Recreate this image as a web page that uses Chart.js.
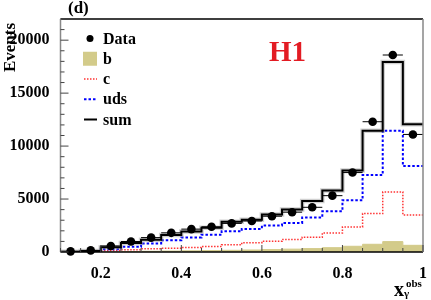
<!DOCTYPE html>
<html>
<head>
<meta charset="utf-8">
<script src="https://cdn.jsdelivr.net/npm/chart.js@4.4.0/dist/chart.umd.min.js"></script>
<style>
  html, body { margin: 0; padding: 0; background: #fff; }
  #wrap { width: 431px; height: 300px; position: relative; }
</style>
</head>
<body>
<div id="wrap"><canvas id="chart"></canvas></div>
<script>
// lower bin edges, the last bin ends at xEnd
const binLow = [0.10, 0.15, 0.20, 0.25, 0.30, 0.35, 0.40, 0.45, 0.50,
                0.55, 0.60, 0.65, 0.70, 0.75, 0.80, 0.85, 0.90, 0.95];
const xEnd = 1.0;
const binWidth = 0.05;

const dataVals = [60, 150, 570, 990, 1360, 1810, 2160, 2380, 2700,
                  2930, 3380, 3760, 4220, 5320, 7500, 12300, 18600, 11100];
const sumVals  = [30, 100, 450, 850, 1150, 1600, 1930, 2300, 2850,
                  3050, 3550, 4020, 4810, 5800, 7700, 11460, 17930, 12060];
const udsVals  = [10, 40, 250, 500, 800, 1120, 1380, 1620, 1950,
                  2180, 2500, 2750, 3260, 3850, 4890, 7260, 11460, 8110];
const cVals    = [5, 30, 150, 220, 300, 350, 420, 520, 680,
                  880, 1010, 1170, 1390, 1800, 2370, 3630, 5660, 3500];
const bVals    = [5, 10, 30, 50, 70, 90, 110, 130, 160,
                  190, 230, 270, 320, 410, 540, 730, 980, 630];

const xTickLabels = [0.2, 0.4, 0.6, 0.8, 1.0];
const yTickLabels = [0, 5000, 10000, 15000, 20000];
const legendNames = ['Data', 'b', 'c', 'uds', 'sum'];

const serif = "'Liberation Serif', 'DejaVu Serif', serif";

// histogram outline: one point per lower edge plus the closing edge
function steps(vals) {
    const pts = binLow.map((x, i) => ({ x: x, y: vals[i] }));
    pts.push({ x: xEnd, y: vals[vals.length - 1] });
    return pts;
}

const rootStyle = {
    id: 'rootStyle',
    afterDatasetsDraw(chart) {
        const ctx = chart.ctx;
        const xs = chart.scales.x, ys = chart.scales.y;
        const a = chart.chartArea;
        ctx.save();

        // horizontal error bars on the data points
        ctx.strokeStyle = '#000';
        ctx.lineWidth = 1;
        binLow.forEach((x, i) => {
            const py = ys.getPixelForValue(dataVals[i]);
            ctx.beginPath();
            ctx.moveTo(xs.getPixelForValue(x), py);
            ctx.lineTo(xs.getPixelForValue(x + binWidth), py);
            ctx.stroke();
        });

        // frame
        ctx.lineWidth = 1.5;
        ctx.strokeStyle = '#000';
        ctx.beginPath();
        ctx.moveTo(a.left, a.top); ctx.lineTo(a.right, a.top);
        ctx.moveTo(a.left, a.bottom); ctx.lineTo(a.right, a.bottom);
        ctx.stroke();
        ctx.strokeStyle = '#888';
        ctx.beginPath();
        ctx.moveTo(a.left, a.top); ctx.lineTo(a.left, a.bottom);
        ctx.moveTo(a.right, a.top); ctx.lineTo(a.right, a.bottom);
        ctx.stroke();

        // inward ticks
        ctx.lineWidth = 1;
        ctx.strokeStyle = '#444';
        ctx.beginPath();
        for (let v = 0; v <= 22000; v += 1000) {
            const py = ys.getPixelForValue(v);
            const len = v % 5000 === 0 ? 8 : 4;
            ctx.moveTo(a.left, py); ctx.lineTo(a.left + len, py);
        }
        for (let k = 2; k <= 20; k++) {
            const v = k * binWidth;
            const px = xs.getPixelForValue(v);
            const len = k % 4 === 0 ? 7 : 4;
            ctx.moveTo(px, a.bottom); ctx.lineTo(px, a.bottom - len);
        }
        ctx.stroke();

        // legend
        const lx = 90, tx = 103;
        ctx.font = 'bold 16px ' + serif;
        ctx.textAlign = 'left';
        ctx.textBaseline = 'alphabetic';
        legendNames.forEach((name, i) => {
            const base = 43.5 + 20.25 * i;
            const my = base - 5;
            if (i === 0) {
                ctx.fillStyle = '#000';
                ctx.beginPath(); ctx.arc(lx, my, 3.5, 0, Math.PI * 2); ctx.fill();
            } else if (i === 1) {
                ctx.fillStyle = '#d3cb8a';
                ctx.fillRect(83, my - 7, 14, 14);
            } else {
                ctx.setLineDash(i === 2 ? [1.5, 1.5] : (i === 3 ? [2.5, 2] : []));
                ctx.strokeStyle = i === 2 ? '#ff3333' : (i === 3 ? '#0000ff' : '#000');
                ctx.lineWidth = i === 2 ? 1.5 : 2;
                ctx.beginPath(); ctx.moveTo(84, my); ctx.lineTo(97, my); ctx.stroke();
                ctx.setLineDash([]);
            }
            ctx.fillStyle = '#000';
            ctx.fillText(name, tx, base);
        });

        // panel label
        ctx.font = 'bold 17px ' + serif;
        ctx.fillText('(d)', 68, 12.5);

        // H1
        ctx.font = 'bold 29px ' + serif;
        ctx.fillStyle = '#e31b23';
        ctx.fillText('H1', 269, 61);

        // axis titles
        ctx.fillStyle = '#000';
        ctx.save();
        ctx.translate(15, 23);
        ctx.rotate(-Math.PI / 2);
        ctx.font = 'bold 17px ' + serif;
        ctx.textAlign = 'right';
        ctx.fillText('Events', 0, 0);
        ctx.restore();

        ctx.font = 'bold 20px ' + serif;
        ctx.fillText('x', 394, 296);
        ctx.font = 'bold 11px ' + serif;
        ctx.fillText('obs', 406, 287);
        ctx.fillText('\u03b3', 404, 297);

        ctx.restore();
    }
};

new Chart(document.getElementById('chart'), {
    type: 'line',
    data: {
        datasets: [
            {
                label: 'Data',
                data: binLow.map((x, i) => ({ x: x + binWidth / 2, y: dataVals[i] })),
                showLine: false,
                pointRadius: 4.3,
                pointBackgroundColor: '#000',
                pointBorderColor: '#000',
                pointBorderWidth: 0,
                clip: false,
                order: 0
            },
            {
                label: 'sum',
                data: steps(sumVals),
                stepped: 'before',
                borderColor: '#000',
                borderWidth: 2,
                pointRadius: 0,
                fill: false,
                order: 1
            },
            {
                label: 'sum band',
                data: steps(sumVals),
                stepped: 'before',
                borderColor: 'rgba(150,150,150,0.45)',
                borderWidth: 4.5,
                pointRadius: 0,
                fill: false,
                order: 2
            },
            {
                label: 'uds',
                data: steps(udsVals),
                stepped: 'before',
                borderColor: '#0000ff',
                borderWidth: 2,
                borderDash: [2.5, 2],
                pointRadius: 0,
                fill: false,
                order: 3
            },
            {
                label: 'c',
                data: steps(cVals),
                stepped: 'before',
                borderColor: '#ff3333',
                borderWidth: 1.5,
                borderDash: [1.5, 1.5],
                pointRadius: 0,
                fill: false,
                order: 4
            },
            {
                label: 'b',
                data: steps(bVals),
                stepped: 'before',
                borderColor: '#d3cb8a',
                backgroundColor: '#d3cb8a',
                borderWidth: 1,
                pointRadius: 0,
                fill: 'origin',
                order: 5
            }
        ]
    },
    options: {
        responsive: true,
        maintainAspectRatio: false,
        animation: false,
        devicePixelRatio: 1,
        layout: { padding: { top: 19, right: 4, left: 0, bottom: 0 } },
        plugins: {
            legend: { display: false },
            tooltip: { enabled: false }
        },
        scales: {
            x: {
                type: 'linear',
                min: 0.1,
                max: xEnd,
                grid: { display: false },
                border: { display: false },
                afterBuildTicks: s => { s.ticks = xTickLabels.map(v => ({ value: v })); },
                afterFit: s => { s.height = 48; },
                ticks: {
                    autoSkip: false,
                    maxRotation: 0,
                    padding: 4,
                    color: '#000',
                    font: { family: serif, size: 16, weight: 'bold' },
                    callback: v => (v >= 0.999 ? '1' : v.toFixed(1))
                }
            },
            y: {
                min: 0,
                max: 22000,
                grid: { display: false },
                border: { display: false },
                afterBuildTicks: s => { s.ticks = yTickLabels.map(v => ({ value: v })); },
                afterFit: s => { s.width = 60.5; },
                ticks: {
                    padding: 3,
                    color: '#000',
                    font: { family: serif, size: 16, weight: 'bold' },
                    callback: v => String(v)
                }
            }
        }
    },
    plugins: [rootStyle]
});
</script>
</body>
</html>
